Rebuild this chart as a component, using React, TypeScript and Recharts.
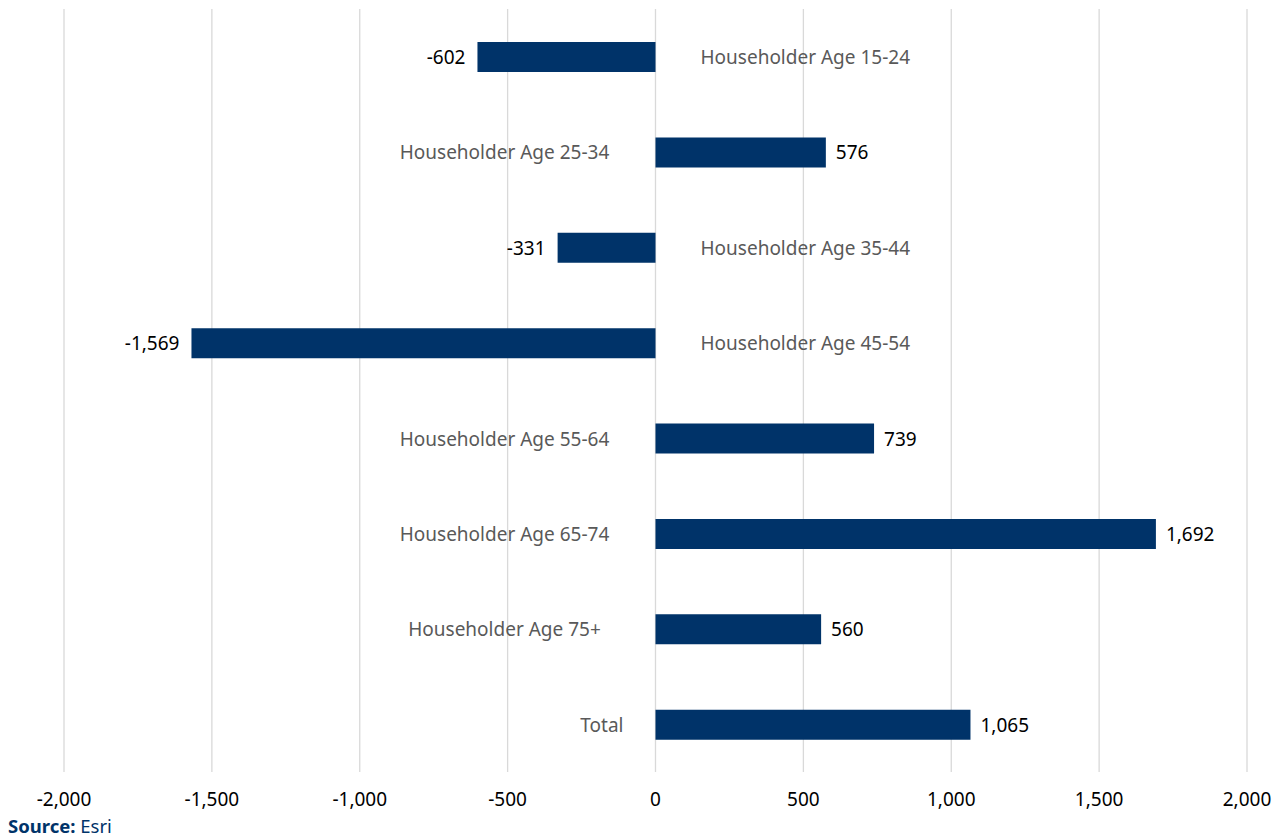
import React from "react";
import { BarChart, Bar, XAxis, YAxis, CartesianGrid, LabelList } from "recharts";

const categories = [
  "Householder Age 15-24",
  "Householder Age 25-34",
  "Householder Age 35-44",
  "Householder Age 45-54",
  "Householder Age 55-64",
  "Householder Age 65-74",
  "Householder Age 75+",
  "Total",
];
const changes = [-602, 576, -331, -1569, 739, 1692, 560, 1065];
const xTicks = [-2000, -1500, -1000, -500, 0, 500, 1000, 1500, 2000];

const data = categories.map((c, i) => ({ name: c, value: changes[i] }));

const FONT = "'Noto Sans', 'Open Sans', sans-serif";
const fmt = (v: number) => v.toLocaleString("en-US");

const ValueLabel = (props: any) => {
  const { x, y, width, height, value } = props;
  const left = Math.min(x, x + width);
  const right = Math.max(x, x + width);
  const cy = y + height / 2;
  const neg = value < 0;
  return (
    <text
      x={neg ? left - 12 : right + 10}
      y={cy}
      textAnchor={neg ? "end" : "start"}
      dominantBaseline="central"
      fontFamily={FONT}
      fontSize={19}
      fill="#000"
    >
      {fmt(value)}
    </text>
  );
};

const CatLabel = (props: any) => {
  const { x, y, width, height, value, index } = props;
  const left = Math.min(x, x + width);
  const right = Math.max(x, x + width);
  const cy = y + height / 2;
  const v = changes[index];
  const neg = v < 0;
  const isTotal = index === categories.length - 1;
  let tx: number;
  let anchor: "start" | "middle" | "end";
  if (neg) {
    tx = right + 45;
    anchor = "start";
  } else if (isTotal) {
    tx = left - 32;
    anchor = "end";
  } else {
    tx = left - 151;
    anchor = "middle";
  }
  return (
    <text
      x={tx}
      y={cy}
      textAnchor={anchor}
      dominantBaseline="central"
      fontFamily={FONT}
      fontSize={19}
      fill="#595959"
    >
      {value}
    </text>
  );
};

export default function App() {
  return (
    <div style={{ position: "absolute", left: 0, top: 0, width: 1283, height: 837, background: "#fff" }}>
      <BarChart
        width={1283}
        height={837}
        data={data}
        layout="vertical"
        margin={{ top: 9, right: 36, bottom: 0, left: 64 }}
        barSize={30}
      >
        <CartesianGrid horizontal={false} vertical={true} stroke="#d9d9d9" strokeWidth={1.3} />
        <XAxis
          type="number"
          domain={[-2000, 2000]}
          ticks={xTicks}
          tickFormatter={fmt}
          axisLine={false}
          tickLine={false}
          height={65}
          tickMargin={15}
          tick={{ fontFamily: FONT, fontSize: 19, fill: "#000" }}
          interval={0}
        />
        <YAxis type="category" dataKey="name" hide />
        <Bar dataKey="value" fill="#003369" isAnimationActive={false}>
          <LabelList dataKey="value" content={ValueLabel} />
          <LabelList dataKey="name" content={CatLabel} />
        </Bar>
      </BarChart>
      <div
        style={{
          position: "absolute",
          left: 8,
          top: 813,
          fontFamily: FONT,
          fontSize: 18.5,
          color: "#003369",
          lineHeight: "26px",
        }}
      >
        <b>Source:</b> Esri
      </div>
    </div>
  );
}
